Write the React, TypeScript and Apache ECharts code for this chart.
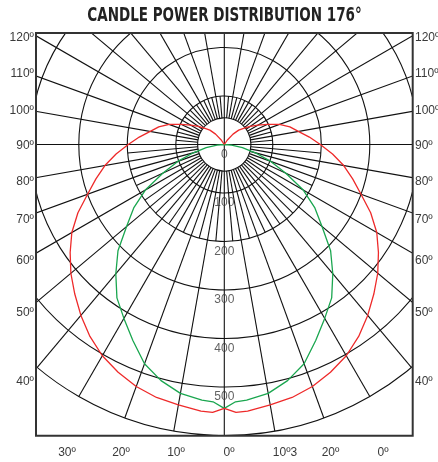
import React, { useEffect, useRef } from "react";
import * as echarts from "echarts";

// Photometric data: angle from nadir (deg) and candela values
const ANGLES = [0, 2.5, 5, 10, 15, 20, 25, 30, 35, 40, 45, 50, 55, 60, 65, 70, 75, 80, 85, 90, 95, 100, 105, 110, 115, 120, 125, 130, 135, 140, 145, 150, 160, 170, 180];
const RED_CD = [544, 553, 552, 545, 540, 531, 518, 503, 483, 460, 436, 413, 388, 363, 333, 300, 274, 250, 224, 198, 176, 155, 140, 121, 98, 80, 65, 52, 42, 28, 12, 0, 0, 0, 0];
const GREEN_CD = [544, 531, 529, 521, 504, 481, 446, 414, 386, 348, 310, 263, 228, 188, 140, 102, 66, 38, 15, 0, null, null, null, null, null, null, null, null, null, null, null, null, null, null, null];

const RADIAL_TICKS = [0, 100, 200, 300, 400, 500];
const SIDE_LABELS = ["120º", "110º", "100º", "90º", "80º", "70º", "60º", "50º", "40º"];
const BOTTOM_LABELS = ["30º", "20º", "10º", "0º", "10º3", "20º", "0º"];
const TITLE = "CANDLE POWER DISTRIBUTION 176°";

const MAX_CD = 600;
const HUB_CD = 55;

// layout
const CX = 224.3;
const CY = 144.5;
const OUTER_R = 291;
const FRAME = { x: 36, y: 33, w: 376.7, h: 402.7 };
const SIDE_Y = [37, 73, 110, 145, 181, 219, 260, 312, 381];
const BOTTOM_X = [67, 121, 176, 229, 285, 330.5, 383];
const BOTTOM_Y = 452;

function buildCurve(values: (number | null)[]) {
  const left: number[][] = [];
  const right: number[][] = [];
  for (let i = ANGLES.length - 1; i >= 0; i--) {
    const v = values[i];
    if (v == null) continue;
    left.push([v, ANGLES[i]]);
  }
  for (let i = 1; i < ANGLES.length; i++) {
    const v = values[i];
    if (v == null) continue;
    right.push([v, 360 - ANGLES[i]]);
  }
  return left.concat(right);
}

function buildGridLines() {
  const items: number[][] = [];
  for (let a = 0; a < 360; a += 10) {
    const throughCenter = a % 90 === 0;
    items.push([throughCenter ? 0 : HUB_CD, a, MAX_CD]);
  }
  for (let a = 5; a < 360; a += 10) {
    const lower = a < 90 || a > 270;
    items.push([HUB_CD, a, lower ? 200 : 100]);
  }
  return items;
}

export default function App() {
  const ref = useRef<HTMLDivElement>(null);
  useEffect(() => {
    if (!ref.current) return;
    const chart = echarts.init(ref.current, undefined, { renderer: "svg" });
    const labelFont = "'Liberation Sans', Arial, sans-serif";
    const textColor = "#3a3a3a";
    const gridColor = "#111";
    const gridWidth = 1.1;
    const graphics: any[] = [
      { type: "rect", z: 50, shape: { x: 0, y: 0, width: 438, height: FRAME.y }, style: { fill: "#fff" }, silent: true },
      { type: "rect", z: 50, shape: { x: 0, y: FRAME.y + FRAME.h, width: 438, height: 462 - FRAME.y - FRAME.h }, style: { fill: "#fff" }, silent: true },
      { type: "rect", z: 50, shape: { x: 0, y: 0, width: FRAME.x, height: 462 }, style: { fill: "#fff" }, silent: true },
      { type: "rect", z: 50, shape: { x: FRAME.x + FRAME.w, y: 0, width: 438 - FRAME.x - FRAME.w, height: 462 }, style: { fill: "#fff" }, silent: true },
      { type: "rect", z: 51, shape: { x: FRAME.x, y: FRAME.y, width: FRAME.w, height: FRAME.h }, style: { fill: "none", stroke: "#333", lineWidth: 2 }, silent: true },
      {
        type: "text", z: 52, x: 224.5, y: 14, scaleX: 0.79,
        style: { text: TITLE, fill: "#222", fontFamily: "'Liberation Sans Narrow', 'DejaVu Sans Condensed', 'Liberation Sans', sans-serif", fontWeight: "bold", fontSize: 19, textAlign: "center", textVerticalAlign: "middle" },
      },
    ];
    SIDE_LABELS.forEach((t, i) => {
      graphics.push({ type: "text", z: 52, x: 34, y: SIDE_Y[i], style: { text: t, fill: textColor, fontFamily: labelFont, fontSize: 12, textAlign: "right", textVerticalAlign: "middle" } });
      graphics.push({ type: "text", z: 52, x: 415, y: SIDE_Y[i], style: { text: t, fill: textColor, fontFamily: labelFont, fontSize: 12, textAlign: "left", textVerticalAlign: "middle" } });
    });
    BOTTOM_LABELS.forEach((t, i) => {
      graphics.push({ type: "text", z: 52, x: BOTTOM_X[i], y: BOTTOM_Y, style: { text: t, fill: textColor, fontFamily: labelFont, fontSize: 12, textAlign: "center", textVerticalAlign: "middle" } });
    });

    chart.setOption({
      animation: false,
      polar: { center: [CX, CY], radius: [0, OUTER_R] },
      angleAxis: {
        type: "value", min: 0, max: 360, startAngle: 270, clockwise: true,
        axisLine: { show: false }, axisTick: { show: false }, axisLabel: { show: false }, splitLine: { show: false },
      },
      radiusAxis: {
        type: "value", min: 0, max: MAX_CD, interval: 100,
        axisLine: { show: false }, axisTick: { show: false }, axisLabel: { show: false },
        splitLine: { show: true, lineStyle: { color: gridColor, width: gridWidth } },
      },
      series: [
        {
          type: "custom", coordinateSystem: "polar", z: 1, silent: true,
          data: buildGridLines(),
          renderItem: (params: any, api: any) => {
            const a = api.value(1);
            const p0 = api.coord([api.value(0), a]);
            const p1 = api.coord([api.value(2), a]);
            return { type: "line", shape: { x1: p0[0], y1: p0[1], x2: p1[0], y2: p1[1] }, style: { stroke: gridColor, lineWidth: gridWidth } };
          },
        },
        {
          type: "custom", coordinateSystem: "polar", z: 1, silent: true,
          data: [[HUB_CD, 0]],
          renderItem: (params: any, api: any) => {
            const c = api.coord([0, 0]);
            const p = api.coord([api.value(0), api.value(1)]);
            const r = Math.hypot(p[0] - c[0], p[1] - c[1]);
            return { type: "circle", shape: { cx: c[0], cy: c[1], r }, style: { fill: "none", stroke: gridColor, lineWidth: gridWidth } };
          },
        },
        {
          type: "scatter", coordinateSystem: "polar", symbolSize: 0, z: 4, silent: true,
          data: RADIAL_TICKS.map((v) => [v, 0]),
          label: {
            show: true, position: "inside", offset: [0, 9],
            formatter: (p: any) => String(p.value[0]),
            color: textColor, fontSize: 12, fontFamily: labelFont,
          },
        },
        {
          type: "line", coordinateSystem: "polar", z: 3, showSymbol: false, silent: true,
          data: buildCurve(GREEN_CD),
          lineStyle: { color: "#1aa64f", width: 1.3 },
        },
        {
          type: "line", coordinateSystem: "polar", z: 3, showSymbol: false, silent: true,
          data: buildCurve(RED_CD),
          lineStyle: { color: "#ee2a2a", width: 1.3 },
        },
      ],
      graphic: graphics,
    });
    return () => chart.dispose();
  }, []);
  return <div ref={ref} style={{ position: "fixed", left: 0, top: 0, width: 438, height: 462 }} />;
}
